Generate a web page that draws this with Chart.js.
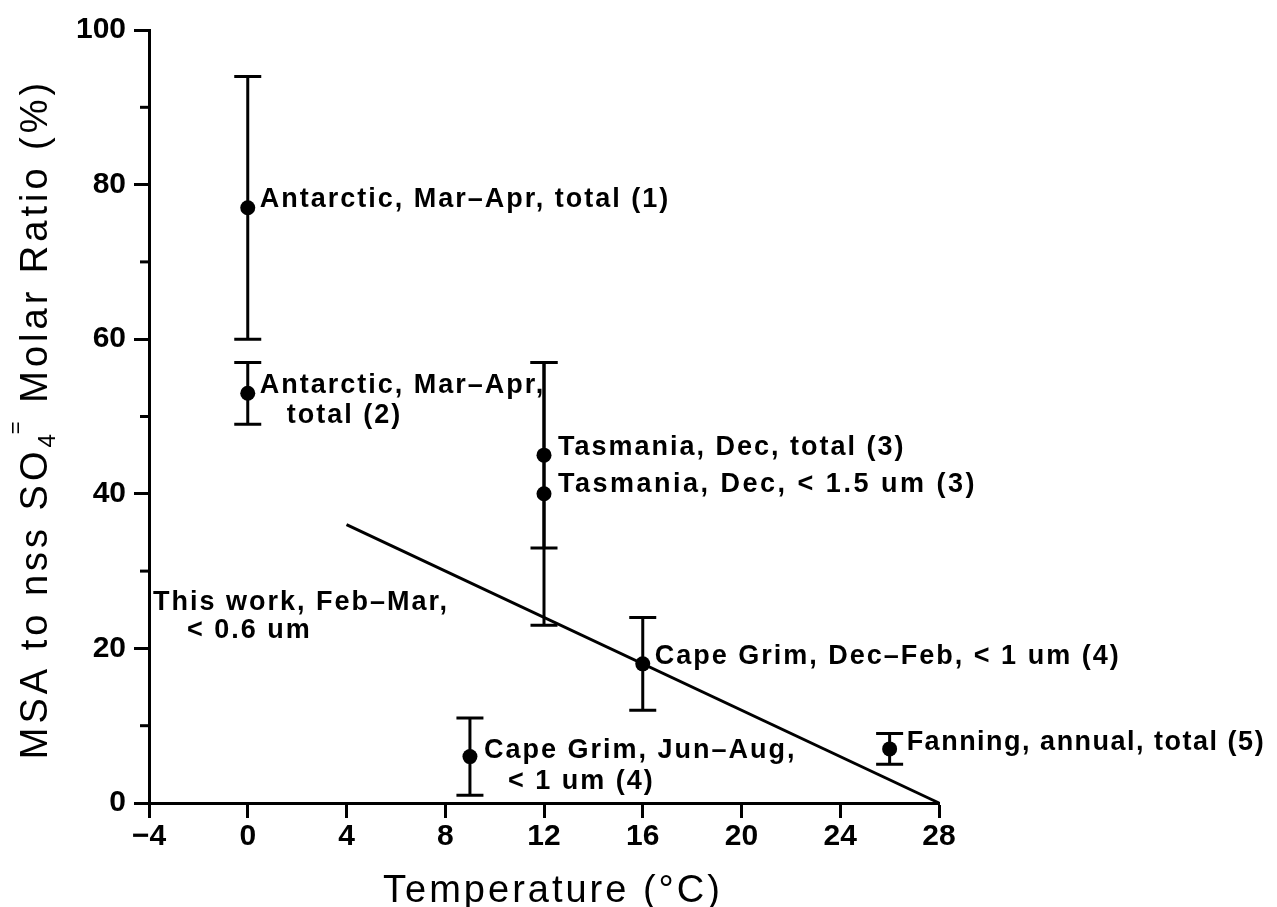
<!DOCTYPE html>
<html><head><meta charset="utf-8">
<script src="https://cdn.jsdelivr.net/npm/chart.js@4/dist/chart.umd.min.js"></script>
<style>html,body{margin:0;padding:0;background:#fff}#wrap{width:1277px;height:907px;position:relative}</style>
</head><body><div id="wrap"><canvas id="c" width="1277" height="907"></canvas></div>
<script>
// ---- data ----
const xTicks = [-4, 0, 4, 8, 12, 16, 20, 24, 28];
const yTicks = [0, 20, 40, 60, 80, 100];
const siteX = [0, 0, 12, 12, 16, 9, 26];
const siteY = [77, 53, 45, 40, 18, 6, 7];
const errLow = [60, 49, 33, 23, 12, 1, 5];
const errHigh = [94, 57, 57, 57, 24, 11, 9];
const siteLabels = [
  ["Antarctic, Mar–Apr, total (1)"],
  ["Antarctic, Mar–Apr,", "total (2)"],
  ["Tasmania, Dec, total (3)"],
  ["Tasmania, Dec, < 1.5 um (3)"],
  ["Cape Grim, Dec–Feb, < 1 um (4)"],
  ["Cape Grim, Jun–Aug,", "< 1 um (4)"],
  ["Fanning, annual, total (5)"]
];
const noteText = ["This work, Feb–Mar,", "< 0.6 um"];
const noteAt = {x: -4, y: 25};
const fitX = [4, 28];
const fitY = [36, 0];

// ---- styles (pixel offsets of label lines from their point) ----
const labelOffsets = [
  [[12, -8]],
  [[12, -8], [39, 22]],
  [[14, -8]],
  [[14, -9]],
  [[12, -7]],
  [[14, -6], [38, 25]],
  [[17, -6]]
];
const labelSpacing = [2, 2, 2, 2.5, 2, 2, 1.5];
const noteOffsets = [[4, -7], [38, 21]];
const ANN_FONT = 'bold 27px "Liberation Sans", Arial, sans-serif';
const TICK_FONT = {family: '"Liberation Sans", Arial, sans-serif', size: 30, weight: 'bold'};
const TITLE_FONT = '38px "Liberation Sans", Arial, sans-serif';

function spacedText(ctx, txt, x, y, ls) {
  ctx.letterSpacing = ls + 'px';
  ctx.fillText(txt, x, y);
  ctx.letterSpacing = '0px';
}

const overlay = {
  id: 'overlay',
  beforeDatasetsDraw(chart) {
    const {ctx, scales: {x, y}} = chart;
    ctx.save();
    ctx.strokeStyle = '#000';
    ctx.lineWidth = 3;
    ctx.lineCap = 'butt';
    const cap = 13.5;
    for (let i = 0; i < siteX.length; i++) {
      const px = x.getPixelForValue(siteX[i]);
      const lo = y.getPixelForValue(errLow[i]);
      const hi = y.getPixelForValue(errHigh[i]);
      ctx.beginPath();
      ctx.moveTo(px, lo); ctx.lineTo(px, hi);
      ctx.moveTo(px - cap, lo); ctx.lineTo(px + cap, lo);
      ctx.moveTo(px - cap, hi); ctx.lineTo(px + cap, hi);
      ctx.stroke();
    }
    // minor y ticks at midpoints
    const left = chart.chartArea.left;
    for (let i = 0; i < yTicks.length - 1; i++) {
      const py = y.getPixelForValue((yTicks[i] + yTicks[i + 1]) / 2);
      ctx.beginPath();
      ctx.moveTo(left - 9, py); ctx.lineTo(left, py);
      ctx.stroke();
    }
    ctx.restore();
  },
  afterDraw(chart) {
    const {ctx, scales: {x, y}} = chart;
    ctx.save();
    ctx.fillStyle = '#000';
    ctx.font = ANN_FONT;
    ctx.textBaseline = 'middle';
    ctx.textAlign = 'left';
    for (let i = 0; i < siteLabels.length; i++) {
      const px = x.getPixelForValue(siteX[i]);
      const py = y.getPixelForValue(siteY[i]);
      siteLabels[i].forEach((t, j) => {
        const o = labelOffsets[i][j];
        spacedText(ctx, t, px + o[0], py + o[1], labelSpacing[i]);
      });
    }
    const nx = x.getPixelForValue(noteAt.x), ny = y.getPixelForValue(noteAt.y);
    noteText.forEach((t, j) => spacedText(ctx, t, nx + noteOffsets[j][0], ny + noteOffsets[j][1], 2));

    // x title
    ctx.font = TITLE_FONT;
    ctx.textBaseline = 'alphabetic';
    ctx.letterSpacing = '3px';
    const xt = 'Temperature (°C)';
    const xw = ctx.measureText(xt).width;
    const cx = (chart.chartArea.left + chart.chartArea.right) / 2 + 9;
    ctx.fillText(xt, cx - xw / 2, 902);
    ctx.letterSpacing = '0px';

    // y title (rotated, with sub/superscript)
    ctx.save();
    ctx.translate(47, 419);
    ctx.rotate(-Math.PI / 2);
    const parts = [
      {t: 'MSA to nss SO', f: TITLE_FONT, dy: 0},
      {t: '4', f: '24px "Liberation Sans", Arial, sans-serif', dy: 8},
      {t: '=', f: '22px "Liberation Sans", Arial, sans-serif', dy: -24, back: 4},
      {t: ' Molar Ratio (%)', f: TITLE_FONT, dy: 0}
    ];
    ctx.letterSpacing = '4px';
    let total = 0;
    parts.forEach(p => { ctx.font = p.f; p.w = ctx.measureText(p.t).width; total += p.w - (p.back || 0); });
    let cur = -total / 2;
    parts.forEach(p => {
      ctx.font = p.f;
      cur -= (p.back || 0);
      ctx.fillText(p.t, cur, p.dy);
      cur += p.w;
    });
    ctx.letterSpacing = '0px';
    ctx.restore();
    ctx.restore();
  }
};

new Chart(document.getElementById('c'), {
  type: 'scatter',
  data: {
    datasets: [
      {
        label: 'sites',
        data: siteX.map((v, i) => ({x: v, y: siteY[i]})),
        pointRadius: 7.5,
        pointBackgroundColor: '#000',
        pointBorderColor: '#000',
        pointBorderWidth: 0,
        showLine: false
      },
      {
        label: 'fit',
        data: fitX.map((v, i) => ({x: v, y: fitY[i]})),
        showLine: true,
        borderColor: '#000',
        borderWidth: 3,
        pointRadius: 0,
        clip: false
      }
    ]
  },
  options: {
    responsive: false,
    animation: false,
    devicePixelRatio: 1,
    layout: {padding: {left: 0, top: 30, right: 338, bottom: 0}},
    plugins: {legend: {display: false}, tooltip: {enabled: false}},
    scales: {
      x: {
        type: 'linear', min: xTicks[0], max: xTicks[xTicks.length - 1],
        afterBuildTicks: s => { s.ticks = xTicks.map(v => ({value: v})); },
        afterFit: s => { s.height = 104; },
        grid: {display: true, drawOnChartArea: false, tickLength: 15, tickWidth: 3, tickColor: '#000'},
        border: {display: true, width: 3, color: '#000'},
        ticks: {color: '#000', font: TICK_FONT, padding: 1, maxRotation: 0, autoSkip: false,
                callback: v => (v < 0 ? '−' + Math.abs(v) : String(v))}
      },
      y: {
        type: 'linear', min: yTicks[0], max: yTicks[yTicks.length - 1],
        afterBuildTicks: s => { s.ticks = yTicks.map(v => ({value: v})); },
        afterFit: s => { s.width = 149; },
        grid: {display: true, drawOnChartArea: false, tickLength: 15, tickWidth: 3, tickColor: '#000'},
        border: {display: true, width: 3, color: '#000'},
        ticks: {color: '#000', font: TICK_FONT, padding: 8, autoSkip: false}
      }
    }
  },
  plugins: [overlay]
});
</script>
</body></html>
